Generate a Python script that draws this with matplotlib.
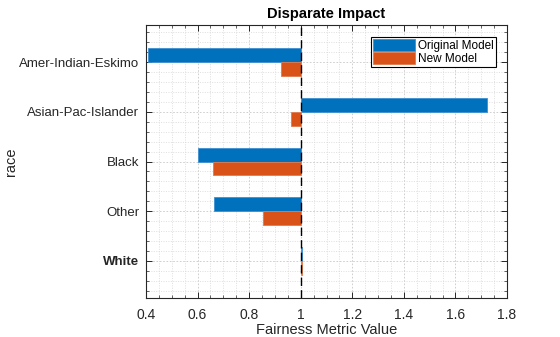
import matplotlib
matplotlib.use("Agg")
import matplotlib.pyplot as plt
import numpy as np
from matplotlib.ticker import MultipleLocator, FixedLocator

plt.rcParams['font.family'] = ['Liberation Sans', 'DejaVu Sans']

categories = ["Amer-Indian-Eskimo", "Asian-Pac-Islander", "Black", "Other", "White"]
original_model = [0.408, 1.722, 0.601, 0.664, 1.005]
new_model = [0.922, 0.962, 0.660, 0.853, 1.005]
series_names = ["Original Model", "New Model"]
xticks = [0.4, 0.6, 0.8, 1.0, 1.2, 1.4, 1.6, 1.8]
xtick_labels = ["0.4", "0.6", "0.8", "1", "1.2", "1.4", "1.6", "1.8"]

blue = "#0072BD"
orange = "#D95319"

fig = plt.figure(figsize=(5.6, 3.37), dpi=100)
ax = fig.add_axes([0.2607, 0.1157, 0.6447, 0.8101])

y = np.arange(1, len(categories) + 1)
h = 0.28
orig = np.array(original_model)
new = np.array(new_model)
ax.barh(y - h / 2, orig - 1, height=h, left=1, color=blue, edgecolor="#3d8fd0",
        linewidth=0.6, label=series_names[0], zorder=3)
ax.barh(y + h / 2, new - 1, height=h, left=1, color=orange, edgecolor="#e07a4d",
        linewidth=0.6, label=series_names[1], zorder=3)

ax.axvline(1.0, color="black", linestyle=(0, (6, 3)), linewidth=1.0, zorder=4)

ax.set_xlim(0.4, 1.8)
ax.set_ylim(5.75, 0.25)
ax.set_xticks(xticks)
ax.set_xticklabels(xtick_labels)
ax.set_yticks(y)
ax.set_yticklabels(categories)
for lbl in ax.get_yticklabels():
    if lbl.get_text() == "White":
        lbl.set_fontweight("bold")

ax.xaxis.set_minor_locator(MultipleLocator(0.05))
ax.yaxis.set_minor_locator(FixedLocator(np.arange(0.4, 5.75, 0.2)))

ax.grid(True, which="major", color="#c8c8c8", linestyle=(0, (2, 2)), linewidth=0.6, zorder=0)
ax.grid(True, which="minor", color="#d4d4d4", linestyle=(0, (1.5, 2)), linewidth=0.5, zorder=0)
ax.set_axisbelow(True)

ax.tick_params(which="both", direction="in", top=True, right=True, colors="#262626")
ax.tick_params(axis="y", labelsize=9.5, pad=5)
ax.tick_params(axis="x", labelsize=10, pad=7)
ax.tick_params(which="major", length=4, width=0.7)
ax.tick_params(which="minor", length=2, width=0.5)
for s in ax.spines.values():
    s.set_color("#262626")
    s.set_linewidth(0.8)

ax.set_title("Disparate Impact", fontsize=10.5, fontweight="bold", pad=5)
ax.set_xlabel("Fairness Metric Value", fontsize=10.5, color="#262626", labelpad=1)
ax.set_ylabel("race", fontsize=10.5, color="#262626")
ax.yaxis.set_label_coords(-0.355, 0.5)

leg = ax.legend(loc="upper right", bbox_to_anchor=(0.975, 0.965), fontsize=8.5,
                frameon=True, fancybox=False, edgecolor="black", framealpha=1,
                handlelength=3.6, handleheight=1.25, handletextpad=0.25,
                borderpad=0.15, labelspacing=0.0, borderaxespad=0.2)
leg.get_frame().set_linewidth(0.8)

fig.savefig("out.png", dpi=100)
